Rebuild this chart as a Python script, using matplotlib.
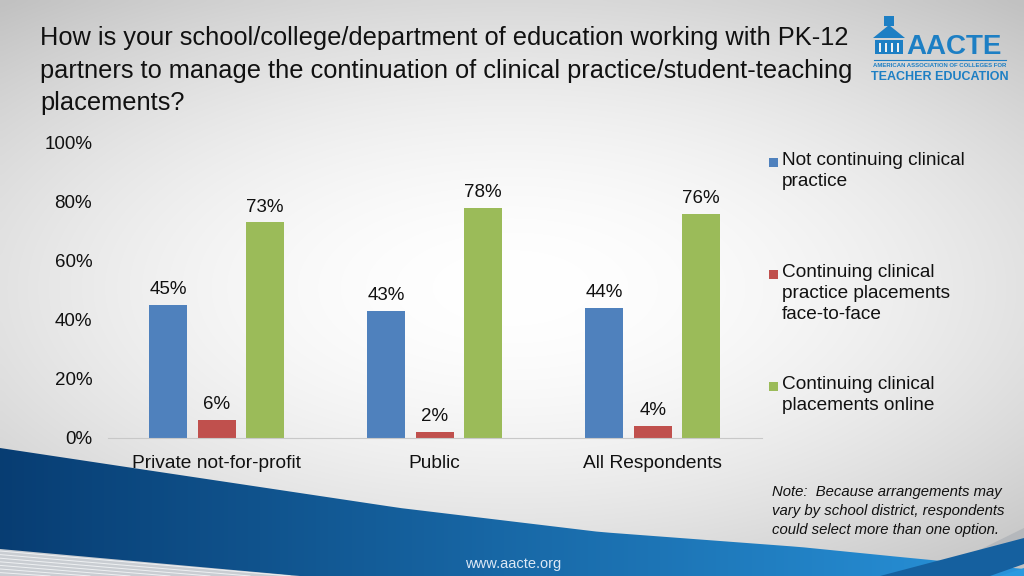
import matplotlib
matplotlib.use("Agg")
import matplotlib.pyplot as plt
import numpy as np
from matplotlib.patches import Polygon, Rectangle

# data
categories = ["Private not-for-profit", "Public", "All Respondents"]
series_names = ["Not continuing clinical\npractice",
                "Continuing clinical\npractice placements\nface-to-face",
                "Continuing clinical\nplacements online"]
not_continuing = [45, 43, 44]
face_to_face = [6, 2, 4]
online = [73, 78, 76]
colors = ["#4F81BD", "#C0504D", "#9BBB59"]
yticks = [0, 20, 40, 60, 80, 100]

title = ("How is your school/college/department of education working with PK-12\n"
         "partners to manage the continuation of clinical practice/student-teaching\n"
         "placements?")
note = ("Note:  Because arrangements may\nvary by school district, respondents\n"
        "could select more than one option.")

plt.rcParams['font.family'] = ['Liberation Sans', 'DejaVu Sans']

fig = plt.figure(figsize=(10.24, 5.76), dpi=100)

# background: light gray gradient with white centre
bg = fig.add_axes([0, 0, 1, 1], zorder=-10)
bg.set_xlim(0, 1024)
bg.set_ylim(576, 0)
bg.axis("off")
xx, yy = np.meshgrid(np.linspace(-1, 1, 256), np.linspace(-1, 1, 144))
rr = np.sqrt((xx * 0.85) ** 2 + (yy * 1.0) ** 2)
shade = 1.0 - 0.15 * np.clip(rr, 0, 1.3) ** 1.8
bg.imshow(np.dstack([shade, shade, shade]), extent=[0, 1024, 576, 0],
          aspect="auto", interpolation="bicubic")

# bottom swoosh, dark blue to light blue
edge_x = [0, 133, 400, 600, 800, 900, 1024]
edge_y = [448, 468, 508, 532, 547, 557, 569]
sx = np.linspace(0, 1024, 80)
top_edge = np.interp(sx, edge_x, edge_y)
swoosh = Polygon(np.vstack([np.column_stack([sx, top_edge]),
                            [[1024, 576], [0, 576]]]), closed=True,
                 facecolor="none", edgecolor="none")
bg.add_patch(swoosh)
grad = np.linspace(0, 1, 256)[None, :]
blue_l = np.array([0.03, 0.24, 0.45])
blue_r = np.array([0.16, 0.58, 0.86])
gimg = blue_l[None, None, :] * (1 - grad[..., None]) + blue_r[None, None, :] * grad[..., None]
im = bg.imshow(gimg, extent=[0, 1024, 576, 440], aspect="auto")
im.set_clip_path(swoosh)
# grey stripes bottom left
gray_part = Polygon([[0, 549], [300, 576], [0, 576]], closed=True,
                    facecolor="#c9cdd2", edgecolor="none")
bg.add_patch(gray_part)
for k in range(7):
    y0 = 551 + k * 3.6
    bg.plot([0, 290 - k * 40], [y0, 576], color="#eef0f2", lw=0.7)
# right side wedges
bg.add_patch(Polygon([[955, 562], [1024, 528], [1024, 538], [972, 560]], closed=True,
                     facecolor="#b5b8bc", edgecolor="none"))
bg.add_patch(Polygon([[880, 576], [1024, 538], [1024, 564], [990, 576]], closed=True,
                     facecolor="#15609f", edgecolor="none"))
bg.add_patch(Polygon([[1000, 576], [1024, 568], [1024, 576]], closed=True,
                     facecolor="#2a9ae0", edgecolor="none"))

# main chart
ax = fig.add_axes([0.105, 0.2396, 0.639, 0.5125])
ax.set_facecolor("none")
x = np.arange(len(categories))
width = 0.174
offset = 0.222
for i, (vals, col) in enumerate(zip([not_continuing, face_to_face, online], colors)):
    bars = ax.bar(x + (i - 1) * offset, vals, width, color=col)
    for b, v in zip(bars, vals):
        ax.annotate(f"{v}%", (b.get_x() + b.get_width() / 2, v),
                    xytext=(0, 5), textcoords="offset points",
                    ha="center", va="bottom", fontsize=13.5, color="#111111")

ax.set_xlim(-0.5, 2.5)
ax.set_ylim(0, 100)
ax.set_yticks(yticks)
ax.set_yticklabels([f"{t}%" for t in yticks], fontsize=13.5, color="#111111")
ax.set_xticks(x)
ax.set_xticklabels(categories, fontsize=13.8, color="#111111")
ax.tick_params(axis="y", length=0, pad=11)
ax.tick_params(axis="x", length=0, pad=12)
for s in ["left", "right", "top"]:
    ax.spines[s].set_visible(False)
ax.spines["bottom"].set_color("#c8c8c8")

# legend
leg_y = [162, 274, 386]
for name, col, ly in zip(series_names, colors, leg_y):
    bg.add_patch(Rectangle((769, ly - 4.5), 9, 9, facecolor=col, edgecolor="none"))
    bg.text(782, ly - 10, name, fontsize=13.7, va="top", ha="left",
            color="#111111", linespacing=1.32)

# title
bg.text(40, 26, title, fontsize=18.3, va="top", ha="left", color="#111111",
        linespacing=1.45)

# note
bg.text(772, 485, note, fontsize=10.7, style="italic", va="top", ha="left",
        color="#111111", linespacing=1.45)

# logo
logo_blue = "#1d7fc4"
bg.add_patch(Rectangle((884, 16), 10, 10, facecolor=logo_blue, edgecolor="none"))
bg.add_patch(Polygon([[873, 38], [889, 25], [905, 38]], closed=True,
                     facecolor=logo_blue, edgecolor="none"))
bg.add_patch(Rectangle((875, 40), 28, 14, facecolor=logo_blue, edgecolor="none"))
for cx in [880, 886, 892, 898]:
    bg.add_patch(Rectangle((cx - 1, 43), 2.2, 9, facecolor="#f0f0f0", edgecolor="none"))
bg.text(906, 54, "AACTE", fontsize=20, fontweight="bold", color=logo_blue,
        ha="left", va="baseline")
bg.plot([874, 1006], [60, 60], color=logo_blue, lw=0.8)
bg.text(940, 65.5, "AMERICAN ASSOCIATION OF COLLEGES FOR", fontsize=4.3,
        fontweight="bold", color=logo_blue, ha="center", va="center")
bg.text(940, 77, "TEACHER EDUCATION", fontsize=9, fontweight="bold",
        color=logo_blue, ha="center", va="center")

# footer
bg.text(513, 564, "www.aacte.org", fontsize=10.5, color="#dce8f5",
        ha="center", va="center")

fig.savefig("out.png", dpi=100)
